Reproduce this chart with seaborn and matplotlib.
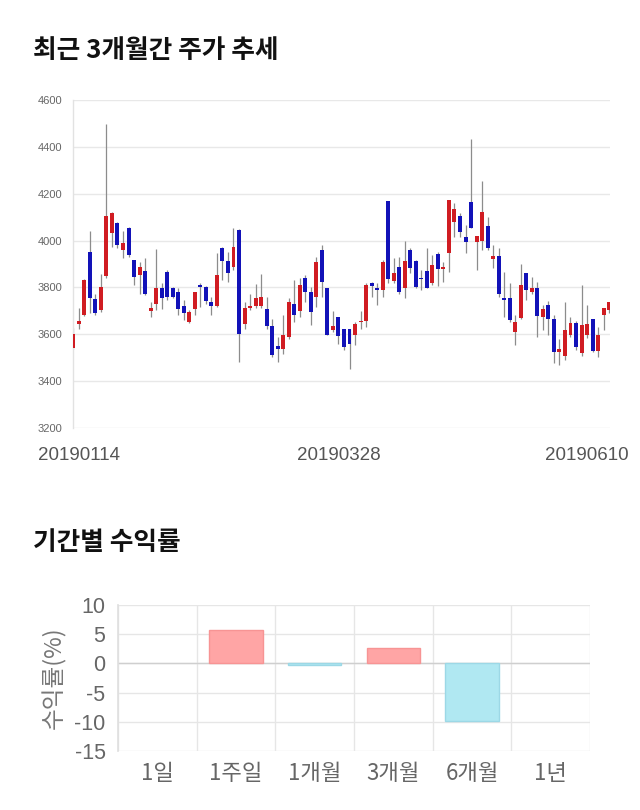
import matplotlib
matplotlib.use('Agg')
import matplotlib.pyplot as plt
import seaborn as sns
import numpy as np
import pandas as pd

# ---- candlestick data (price, KRW) ----
opens = [3543, 3644, 3684, 3953, 3750, 3704, 3850, 4031, 4077, 3960,
         4053, 3917, 3853, 3871, 3700, 3730, 3796, 3866, 3796, 3779,
         3720, 3653, 3710, 3810, 3800, 3739, 3720, 3967, 3913, 3886,
         4046, 3646, 3713, 3720, 3720, 3710, 3634, 3550, 3539, 3589,
         3731, 3699, 3841, 3781, 3760, 3960, 3796, 3617, 3674, 3624,
         3624, 3596, 3653, 3656, 3820, 3796, 3791, 4171, 3829, 3889,
         3799, 3960, 3914, 3839, 3871, 3817, 3941, 3880, 3946, 4081,
         4103, 4017, 4163, 3996, 4000, 4063, 3920, 3934, 3753, 3756,
         3610, 3671, 3860, 3781, 3796, 3674, 3724, 3664, 3524, 3506,
         3599, 3649, 3520, 3599, 3664, 3529, 3684, 3703]
highs = [3625, 3713, 3835, 4041, 3774, 3856, 4499, 4124, 4081, 4041,
         4056, 3917, 3910, 3924, 3739, 3963, 3817, 3874, 3803, 3796,
         3746, 3703, 3781, 3817, 3807, 3760, 3946, 3974, 3953, 4053,
         4050, 3739, 3771, 3813, 3856, 3760, 3667, 3589, 3684, 3753,
         3831, 3839, 3853, 3803, 3931, 3979, 3796, 3699, 3674, 3624,
         3624, 3653, 3699, 3817, 3824, 3817, 3917, 4171, 3924, 3931,
         3999, 3967, 3917, 3874, 3967, 3939, 3953, 3910, 4174, 4160,
         4117, 4067, 4434, 4021, 4253, 4099, 3981, 3967, 3867, 3817,
         3681, 3899, 3860, 3846, 3824, 3727, 3741, 3684, 3579, 3739,
         3674, 3656, 3810, 3727, 3667, 3631, 3714, 3739]
lows = [3539, 3624, 3680, 3689, 3684, 3696, 3839, 3974, 3967, 3927,
        3931, 3810, 3774, 3767, 3674, 3703, 3710, 3746, 3753, 3684,
        3660, 3650, 3681, 3717, 3731, 3681, 3717, 3831, 3824, 3874,
        3481, 3624, 3703, 3713, 3713, 3624, 3503, 3481, 3517, 3581,
        3653, 3674, 3739, 3641, 3717, 3760, 3596, 3610, 3560, 3531,
        3450, 3556, 3624, 3631, 3760, 3724, 3760, 3817, 3817, 3774,
        3753, 3860, 3796, 3789, 3796, 3810, 3806, 3824, 3867, 4017,
        4017, 3946, 4053, 3874, 3960, 3960, 3881, 3760, 3674, 3653,
        3553, 3667, 3746, 3774, 3589, 3617, 3596, 3479, 3467, 3489,
        3589, 3531, 3507, 3584, 3524, 3503, 3617, 3689]
closes = [3600, 3656, 3831, 3756, 3689, 3801, 4103, 4117, 3981, 3991,
          3939, 3846, 3886, 3771, 3713, 3796, 3756, 3760, 3760, 3710,
          3691, 3696, 3779, 3800, 3741, 3720, 3851, 3913, 3860, 3971,
          3603, 3714, 3720, 3756, 3760, 3634, 3510, 3539, 3599, 3736,
          3684, 3810, 3781, 3696, 3910, 3824, 3599, 3634, 3591, 3546,
          3560, 3646, 3656, 3810, 3806, 3791, 3910, 3836, 3860, 3781,
          3914, 3881, 3803, 3834, 3799, 3896, 3877, 3886, 4174, 4136,
          4036, 3996, 4053, 4021, 4121, 3967, 3934, 3770, 3746, 3660,
          3653, 3810, 3791, 3796, 3679, 3706, 3664, 3524, 3539, 3620,
          3649, 3546, 3639, 3646, 3529, 3599, 3714, 3736]
date_labels = ["20190114", "20190328", "20190610"]
date_positions = [1, 48, 93]
price_ticks = [3200, 3400, 3600, 3800, 4000, 4200, 4400, 4600]

# ---- period returns (%) ----
periods = ["1일", "1주일", "1개월", "3개월", "6개월", "1년"]
returns = [0.0, 5.8, -0.2, 2.7, -9.9, 0.0]
return_ticks = [-15, -10, -5, 0, 5, 10]

sns.set_theme(style='white')
plt.rcParams['font.family'] = ['Noto Sans CJK KR', 'DejaVu Sans']

W, H = 640, 810
fig = plt.figure(figsize=(W / 100, H / 100), dpi=100)
fig.patch.set_facecolor('white')

# ---------------- candlestick chart ----------------
ax1 = fig.add_axes([73 / W, 1 - 428 / H, (610 - 73) / W, (428 - 100) / H])
o = np.array(opens, float)
c = np.array(closes, float)
hi = np.array(highs, float)
lo = np.array(lows, float)
x = np.arange(len(o))
up = c >= o
body_colors = np.where(up, '#d01c22', '#1212b8')
ax1.vlines(x, lo, hi, color='#8c8c8c', lw=0.9, zorder=2)
ax1.bar(x, np.maximum(np.abs(c - o), 5), bottom=np.minimum(o, c), width=0.72,
        color=body_colors, linewidth=0, zorder=3)
ax1.set_xlim(-0.05, len(o) - 1 + 0.15)
ax1.set_ylim(3200, 4600)
ax1.set_yticks(price_ticks)
ax1.set_yticklabels([str(t) for t in price_ticks], family='Liberation Sans',
                    fontsize=8, color='#666666')
ax1.set_xticks(date_positions)
ax1.set_xticklabels(date_labels, family='Liberation Sans', fontsize=13.5,
                    color='#555555')
ax1.tick_params(axis='y', length=7, color='#e6e6e6', pad=1, width=1)
ax1.tick_params(axis='x', length=0, pad=14)
ax1.yaxis.grid(True, color='#e8e8e8', lw=1)
ax1.xaxis.grid(False)
for s in ['top', 'right', 'bottom']:
    ax1.spines[s].set_visible(False)
ax1.spines['left'].set_color('#e2e2e2')
ax1.spines['left'].set_linewidth(1)

fig.text(33 / W, 1 - 50 / H, "최근 3개월간 주가 추세", fontsize=18.5,
         fontweight='bold', color='#111111', va='center', ha='left')

# ---------------- period returns chart ----------------
ax2 = fig.add_axes([118 / W, 1 - 751 / H, (590 - 118) / W, (751 - 605) / H])
df = pd.DataFrame({'period': periods, 'ret': returns})
bar_colors = ['#ffa5a5' if r > 0 else '#b0e8f2' for r in returns]
sns.barplot(data=df, x='period', y='ret', hue='period', palette=bar_colors,
            saturation=1, legend=False, width=0.68, ax=ax2, zorder=3)
for p, r in zip(ax2.patches, returns):
    if r > 0:
        p.set_edgecolor('#f79494')
        p.set_linewidth(1)
    elif r < 0:
        p.set_edgecolor('#9cd8e6')
        p.set_linewidth(1)
    else:
        p.set_linewidth(0)
ax2.set_xlim(-0.5, len(periods) - 0.5)
ax2.set_ylim(-15, 10)
ax2.set_yticks(return_ticks)
ax2.set_yticklabels([str(t) for t in return_ticks], family='Liberation Sans',
                    fontsize=15.5, color='#666666')
ax2.set_xticks(range(len(periods)))
ax2.set_xticklabels(periods, fontsize=16, color='#666666')
ax2.set_xticks(np.arange(-0.5, len(periods), 1.0), minor=True)
ax2.tick_params(axis='x', which='major', length=0, pad=8)
ax2.tick_params(axis='x', which='minor', length=9, color='#e6e6e6', width=1)
ax2.tick_params(axis='y', length=0, pad=9)
ax2.xaxis.grid(True, which='minor', color='#e6e6e6', lw=1)
ax2.xaxis.grid(False, which='major')
ax2.yaxis.grid(True, color='#e6e6e6', lw=1)
ax2.axhline(0, color='#cfcfcf', lw=1, zorder=2)
ax2.set_xlabel('')
ax2.set_ylabel('수익률(%)', fontsize=17, color='#777777', labelpad=6)
for s in ['top', 'right', 'bottom']:
    ax2.spines[s].set_visible(False)
ax2.spines['left'].set_color('#e0e0e0')

fig.text(33 / W, 1 - 543 / H, "기간별 수익률", fontsize=18.5,
         fontweight='bold', color='#111111', va='center', ha='left')

fig.savefig('out.png', dpi=100, facecolor='white')
